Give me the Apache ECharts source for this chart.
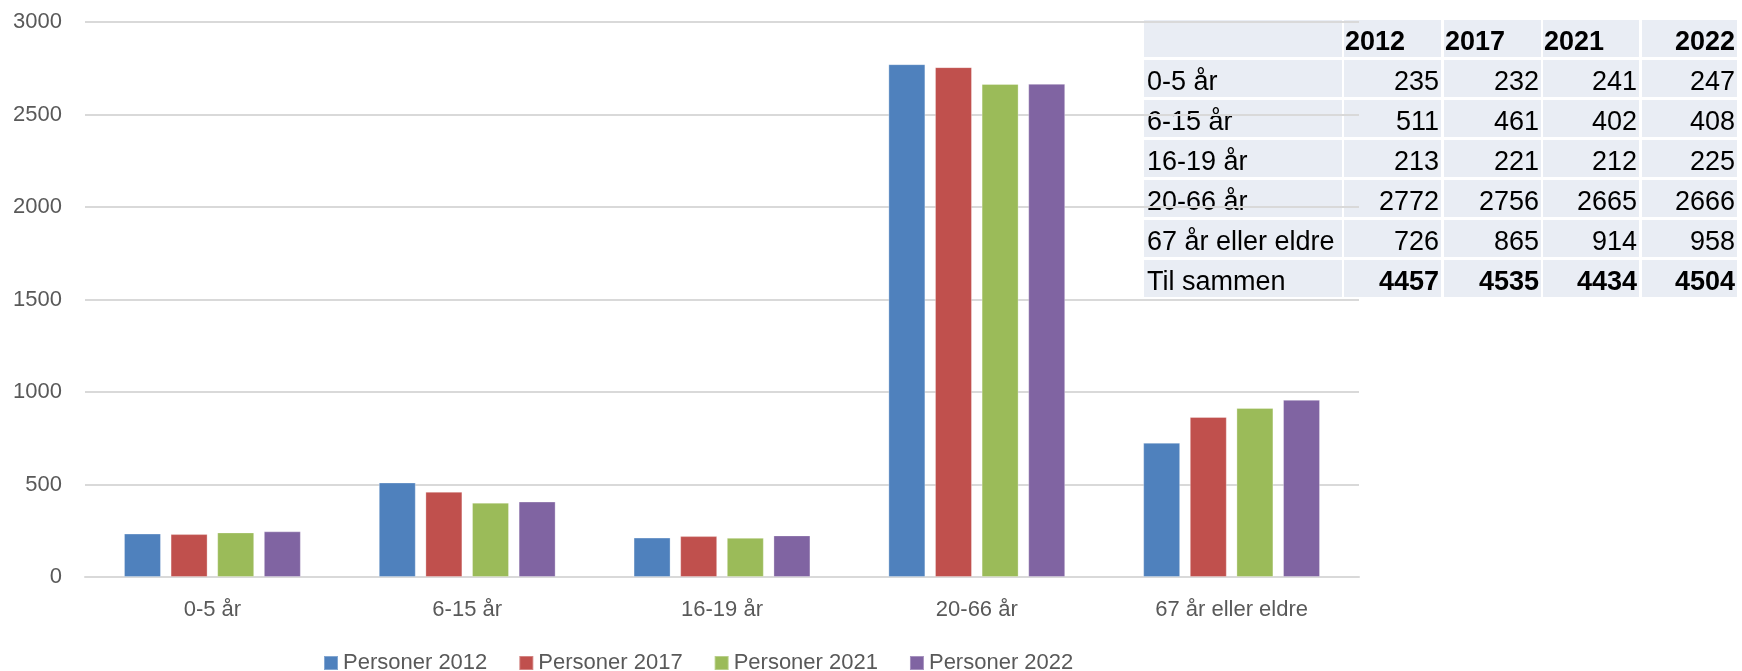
<!DOCTYPE html>
<html>
<head>
<meta charset="utf-8">
<script src="https://cdn.jsdelivr.net/npm/echarts@6/dist/echarts.min.js"></script>
<style>
html,body{margin:0;padding:0;background:#fff;}
#c{width:1742px;height:671px;}
</style>
</head>
<body>
<div id="c"></div>
<script>
const categories = ['0-5 år', '6-15 år', '16-19 år', '20-66 år', '67 år eller eldre'];
const years = ['2012', '2017', '2021', '2022'];
const seriesNames = ['Personer 2012', 'Personer 2017', 'Personer 2021', 'Personer 2022'];
const p2012 = [235, 511, 213, 2772, 726];
const p2017 = [232, 461, 221, 2756, 865];
const p2021 = [241, 402, 212, 2665, 914];
const p2022 = [247, 408, 225, 2666, 958];
const totalLabel = 'Til sammen';
const yTicks = [0, 500, 1000, 1500, 2000, 2500, 3000];
const colors = ['#4F81BD', '#C0504D', '#9BBB59', '#8064A2'];

const seriesData = [p2012, p2017, p2021, p2022];
const totals = seriesData.map(a => a.reduce((s, v) => s + v, 0));

const FONT = '"Liberation Sans", Arial, sans-serif';

// table geometry (overlay in top-right)
const colLeft = [1144, 1344, 1444, 1543, 1642];
const colRight = [1342, 1441, 1541, 1639, 1737];
const rowTop0 = 20, rowPitch = 40, rowH = 37;
const graphics = [];
const rows = [[''].concat(years)];
categories.forEach((c, i) => rows.push([c].concat(seriesData.map(a => String(a[i])))));
rows.push([totalLabel].concat(totals.map(String)));
rows.forEach((r, ri) => {
  const top = rowTop0 + ri * rowPitch;
  r.forEach((txt, ci) => {
    graphics.push({
      type: 'rect', z: -10, silent: true,
      shape: { x: colLeft[ci], y: top, width: colRight[ci] - colLeft[ci], height: rowH },
      style: { fill: '#E9EDF4' }
    });
    if (!txt) return;
    const bold = (ri === 0 || ri === rows.length - 1) && ci > 0;
    let align = 'right', x = colRight[ci] - 2;
    if (ci === 0) { align = 'left'; x = 1147; }
    else if (ri === 0 && ci < 4) { align = 'left'; x = colLeft[ci] + 1; }
    graphics.push({
      type: 'text', z: -9, silent: true,
      x: x, y: top + rowH / 2 + 4,
      style: {
        text: txt, fill: '#000',
        font: (bold ? 'bold ' : '') + '27px ' + FONT,
        align: align, textAlign: align,
        verticalAlign: 'middle', textVerticalAlign: 'middle'
      }
    });
  });
});

const chart = echarts.init(document.getElementById('c'), null, { renderer: 'canvas' });
chart.setOption({
  animation: false,
  backgroundColor: 'transparent',
  color: colors,
  grid: { left: 85, right: 383, top: 22, bottom: 94, containLabel: false },
  legend: {
    data: seriesNames,
    left: 318, top: 647,
    itemWidth: 14, itemHeight: 14, itemGap: 31,
    icon: 'rect',
    textStyle: { fontFamily: FONT, fontSize: 22, color: '#595959' }
  },
  xAxis: {
    type: 'category',
    data: categories,
    axisLine: { show: true, lineStyle: { color: '#D9D9D9', width: 2 } },
    axisTick: { show: false },
    axisLabel: { margin: 22, fontFamily: FONT, fontSize: 22, color: '#595959' }
  },
  yAxis: {
    type: 'value',
    min: yTicks[0], max: yTicks[yTicks.length - 1], interval: yTicks[1] - yTicks[0],
    axisLine: { show: false },
    axisTick: { show: false },
    splitLine: { show: true, lineStyle: { color: '#D9D9D9', width: 2 } },
    axisLabel: { margin: 23, fontFamily: FONT, fontSize: 22, color: '#595959', formatter: v => String(v) }
  },
  graphic: graphics,
  series: seriesNames.map((n, i) => ({
    name: n,
    type: 'bar',
    data: seriesData[i],
    barWidth: 37,
    barGap: '26%',
    itemStyle: { color: colors[i], borderColor: 'rgba(255,255,255,0.3)', borderWidth: 1 }
  }))
});
</script>
</body>
</html>
